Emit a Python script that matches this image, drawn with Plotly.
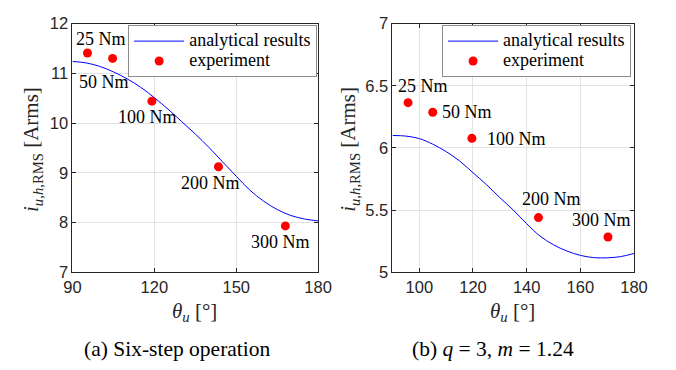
import plotly.graph_objects as go

# ---------------- data ----------------
# (a) six-step operation
theta_a_curve = [90, 95, 100, 105, 110, 115, 120, 125, 130, 135, 140, 145, 150, 155, 160, 165, 170, 175, 180]
i_a_curve = [11.24, 11.21, 11.14, 11.03, 10.89, 10.72, 10.51, 10.28, 10.03, 9.78, 9.51, 9.22, 8.93, 8.65, 8.43, 8.26, 8.14, 8.07, 8.03]
theta_a_exp = [95.5, 104.7, 119.1, 143.5, 168.0]
i_a_exp = [11.41, 11.30, 10.44, 9.12, 7.93]

# (b) q = 3, m = 1.24
theta_b_curve = [90, 95, 100, 105, 110, 115, 120, 125, 130, 135, 140, 145, 150, 155, 160, 165, 170, 175, 180]
i_b_curve = [6.10, 6.095, 6.075, 6.03, 5.97, 5.895, 5.80, 5.705, 5.60, 5.50, 5.39, 5.29, 5.22, 5.17, 5.135, 5.117, 5.115, 5.125, 5.15]
theta_b_exp = [95.8, 105.0, 119.6, 144.4, 170.3]
i_b_exp = [6.364, 6.287, 6.077, 5.439, 5.283]

torque_labels = ["25 Nm", "50 Nm", "100 Nm", "200 Nm", "300 Nm"]
legend_names = ["analytical results", "experiment"]

xticks_a = [90, 120, 150, 180]
yticks_a = [7, 8, 9, 10, 11, 12]
xticks_b = [100, 120, 140, 160, 180]
yticks_b = [5, 5.5, 6, 6.5, 7]
yticklabels_b = ["5", "5.5", "6", "6.5", "7"]

# label offsets (pixels) relative to each experiment point
shift_a = [(14, 14), (-9, -24), (-4, -16), (-8, -16), (-5, -16)]
shift_b = [(15, 17), (34, 0), (45, -1), (13, 19), (-6, 17)]

# ---------------- figure ----------------
SERIF = "Liberation Serif"
SANS = "Liberation Sans"
AX = "#262626"


def big(s):
    return "<span style='font-size:18px'>" + s + "</span>"


fig = go.Figure()

fig.add_trace(go.Scatter(x=theta_a_curve, y=i_a_curve, mode="lines", line=dict(color="#0000ff", width=1, shape="spline"),
                         name=big(legend_names[0]), xaxis="x", yaxis="y", legend="legend"))
fig.add_trace(go.Scatter(x=theta_a_exp, y=i_a_exp, mode="markers", marker=dict(color="#ff0000", size=9),
                         name=big(legend_names[1]), xaxis="x", yaxis="y", legend="legend"))
fig.add_trace(go.Scatter(x=theta_b_curve, y=i_b_curve, mode="lines", line=dict(color="#0000ff", width=1, shape="spline"),
                         name=big(legend_names[0]), xaxis="x2", yaxis="y2", legend="legend2"))
fig.add_trace(go.Scatter(x=theta_b_exp, y=i_b_exp, mode="markers", marker=dict(color="#ff0000", size=9),
                         name=big(legend_names[1]), xaxis="x2", yaxis="y2", legend="legend2"))

axis_common = dict(showline=True, linecolor=AX, linewidth=1, mirror="ticks", ticks="inside", ticklen=4,
                   tickcolor=AX, showgrid=True, gridcolor="#e3e3e3", gridwidth=1, zeroline=False,
                   tickfont=dict(family=SANS, size=16.5, color=AX))

ydom = [1 - 276.6 / 370, 1 - 15.4 / 370]
leg_common = dict(xanchor="right", yanchor="top", bgcolor="white", bordercolor="#8c8c8c", borderwidth=1,
                  font=dict(family=SERIF, size=13, color="black"), tracegroupgap=0, itemwidth=50)
fig.update_layout(
    width=676, height=370, margin=dict(l=0, r=0, t=0, b=0),
    paper_bgcolor="white", plot_bgcolor="white",
    xaxis=dict(domain=[65.7 / 676, 320 / 676], range=[90, 180], tickvals=xticks_a, anchor="y", **axis_common),
    yaxis=dict(domain=ydom, range=[7, 12], tickvals=yticks_a, anchor="x", **axis_common),
    xaxis2=dict(domain=[397 / 676, 647 / 676], range=[90, 180], tickvals=xticks_b, anchor="y2", **axis_common),
    yaxis2=dict(domain=ydom, range=[5, 7], tickvals=yticks_b, ticktext=yticklabels_b, anchor="x2", **axis_common),
    legend=dict(x=319 / 676, y=1 - 17 / 370, **leg_common),
    legend2=dict(x=644 / 676, y=1 - 17 / 370, **leg_common),
    showlegend=True,
)

ann = []
lab_font = dict(family=SERIF, size=18, color="black")
for k, lab in enumerate(torque_labels):
    ann.append(dict(x=theta_a_exp[k], y=i_a_exp[k], xref="x", yref="y", text=lab, showarrow=False,
                    xanchor="center", yanchor="middle",
                    xshift=shift_a[k][0], yshift=shift_a[k][1], font=lab_font))
    ann.append(dict(x=theta_b_exp[k], y=i_b_exp[k], xref="x2", yref="y2", text=lab, showarrow=False,
                    xanchor="center", yanchor="middle",
                    xshift=shift_b[k][0], yshift=shift_b[k][1], font=lab_font))

title_font = dict(family=SERIF, size=21, color=AX)
ylabel = "<i>i</i><sub><i>u</i>,<i>h</i>,RMS</sub> [Arms]"
xlabel = "<i>θ</i><sub><i>u</i></sub> [°]"


def pann(x, y, text, font, angle=0):
    return dict(x=x / 676, y=1 - y / 370, xref="paper", yref="paper", text=text, showarrow=False,
                xanchor="center", yanchor="middle", textangle=angle, font=font)


cap_font = dict(family=SERIF, size=21.5, color="black")
ann += [
    pann(192.5, 319, xlabel, title_font),
    pann(521, 319, xlabel, title_font),
    pann(24, 148, ylabel, title_font, -90),
    pann(352, 148, ylabel, title_font, -90),
    pann(174, 357, "(a) Six-step operation", cap_font),
    pann(501.4, 357, "(b) <i>q</i> = 3, <i>m</i> = 1.24", cap_font),
]
fig.update_layout(annotations=ann)

fig.write_html("out.html")
